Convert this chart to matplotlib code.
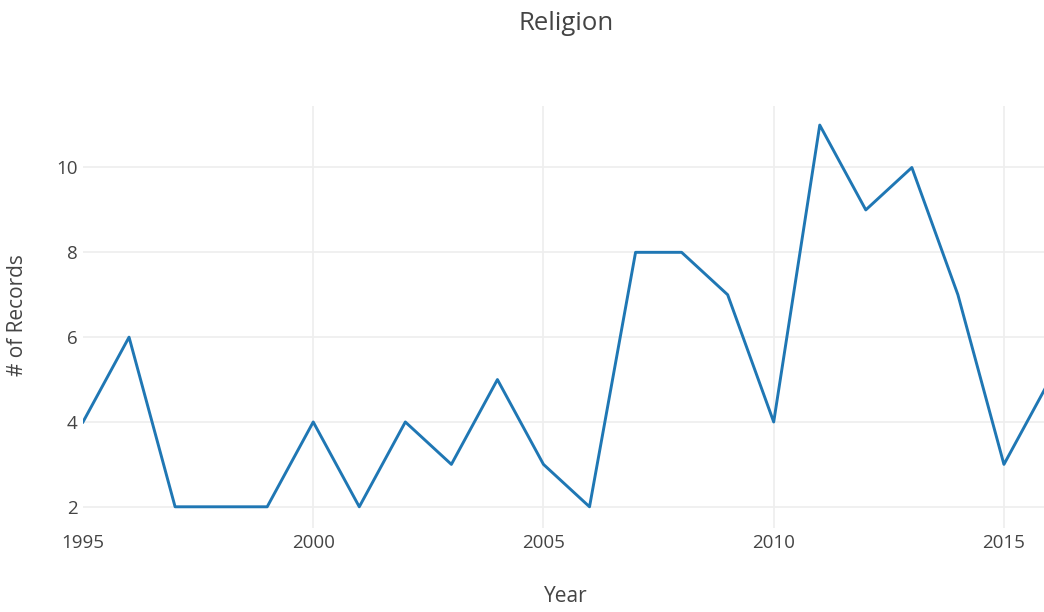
import matplotlib
matplotlib.use("Agg")
import matplotlib.pyplot as plt

plt.rcParams['font.family'] = ['Open Sans', 'DejaVu Sans']

# Records per year
years = [1995, 1996, 1997, 1998, 1999, 2000, 2001, 2002, 2003, 2004, 2005,
         2006, 2007, 2008, 2009, 2010, 2011, 2012, 2013, 2014, 2015, 2016]
records = [4, 6, 2, 2, 2, 4, 2, 4, 3, 5, 3,
           2, 8, 8, 7, 4, 11, 9, 10, 7, 3, 5]

x_ticks = [1995, 2000, 2005, 2010, 2015]
y_ticks = [2, 4, 6, 8, 10]

TEXT = '#444444'
GRID = '#eeeeee'

W, H = 1044, 612
fig = plt.figure(figsize=(W / 100, H / 100), dpi=100)
ax = fig.add_axes([83 / W, 1 - 528 / H, 1 - 83 / W, (528 - 106) / H])

ax.plot(years, records, color='#1f77b4', linewidth=2.1, zorder=3)

ax.set_xlim(1995, 2015.87)
ax.set_ylim(1.5, 11.45)
ax.set_xticks(x_ticks)
ax.set_yticks(y_ticks)
# horizontal grid, vertical grid except at the left edge
ax.grid(True, axis='y', color=GRID, linewidth=1.2)
for xt in x_ticks[1:]:
    ax.axvline(xt, color=GRID, linewidth=1.2, zorder=0)
ax.set_axisbelow(True)
for s in ax.spines.values():
    s.set_visible(False)
ax.tick_params(length=0, labelsize=13.5, colors=TEXT)
ax.tick_params(axis='x', pad=4)
ax.tick_params(axis='y', pad=4)

fig.text(566 / W, 1 - 597 / H, 'Year', fontsize=15, color=TEXT,
         ha='center', va='center')
fig.text(18 / W, 1 - 315 / H, '# of Records', fontsize=15, color=TEXT,
         ha='center', va='center', rotation=90)
fig.text(566 / W, 1 - 23 / H, 'Religion', fontsize=18.5, color=TEXT,
         ha='center', va='center')

fig.savefig('out.png', dpi=100)
